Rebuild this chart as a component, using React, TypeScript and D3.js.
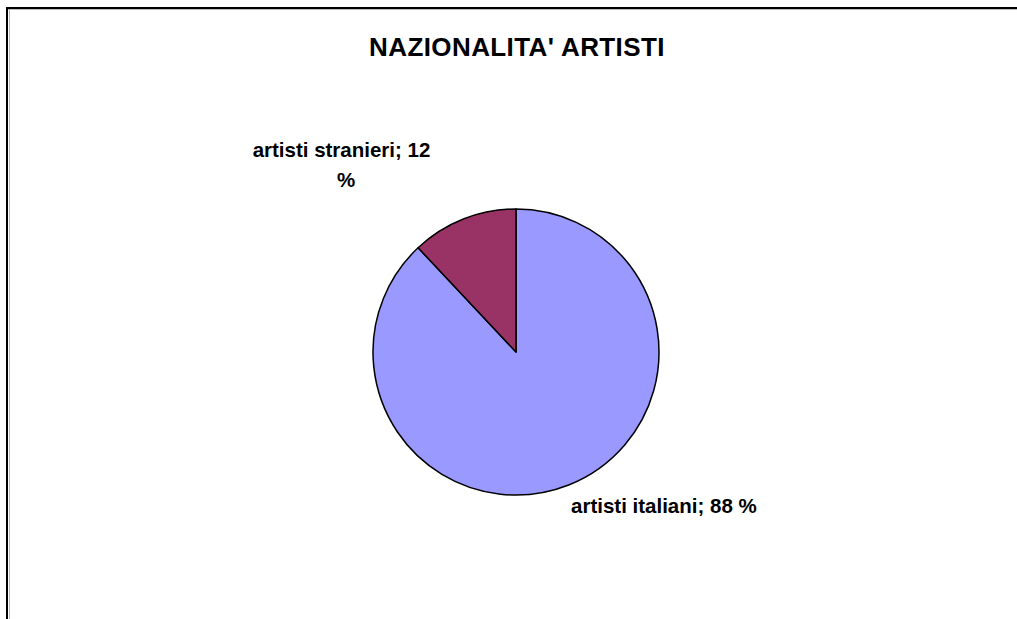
import React from "react";
import * as d3 from "d3";

const categories = ["artisti italiani", "artisti stranieri"];
const values = [88, 12];
const colors = ["#9999FF", "#993366"];
const title = "NAZIONALITA' ARTISTI";

const W = 1017;
const H = 619;
const cx = 516;
const cy = 352;
const r = 143;

export default function App() {
  const pie = d3.pie<number>().sort(null).value((d) => d)(values);
  const arc = d3.arc<d3.PieArcDatum<number>>().innerRadius(0).outerRadius(r);
  const font = "'Liberation Sans', Arial, sans-serif";
  return (
    <svg width={W} height={H} style={{ position: "absolute", left: 0, top: 0 }}>
      <rect x={0} y={0} width={W} height={H} fill="#fff" />
      <line x1={8} y1={9.5} x2={W} y2={9.5} stroke="#bbb" strokeWidth={1} />
      <line x1={9.5} y1={9} x2={9.5} y2={H} stroke="#bbb" strokeWidth={1} />
      <rect x={7} y={8} width={W + 20} height={H + 20} fill="none" stroke="#000" strokeWidth={2} />
      <text x={517} y={56} textAnchor="middle" fontFamily={font} fontWeight="bold" fontSize={26} letterSpacing={0.4}>
        {title}
      </text>
      <g transform={`translate(${cx},${cy})`}>
        {pie.map((p, i) => (
          <path key={i} d={arc(p) || ""} fill={colors[i]} stroke="#000" strokeWidth={1.5} strokeLinejoin="round" />
        ))}
      </g>
      <text x={341.5} y={157} textAnchor="middle" fontFamily={font} fontWeight="bold" fontSize={20.5}>
        {`${categories[1]}; ${values[1]}`}
      </text>
      <text x={346} y={187} textAnchor="middle" fontFamily={font} fontWeight="bold" fontSize={20.5}>
        %
      </text>
      <text x={571} y={513} textAnchor="start" fontFamily={font} fontWeight="bold" fontSize={20.5}>
        {`${categories[0]}; ${values[0]} %`}
      </text>
    </svg>
  );
}
